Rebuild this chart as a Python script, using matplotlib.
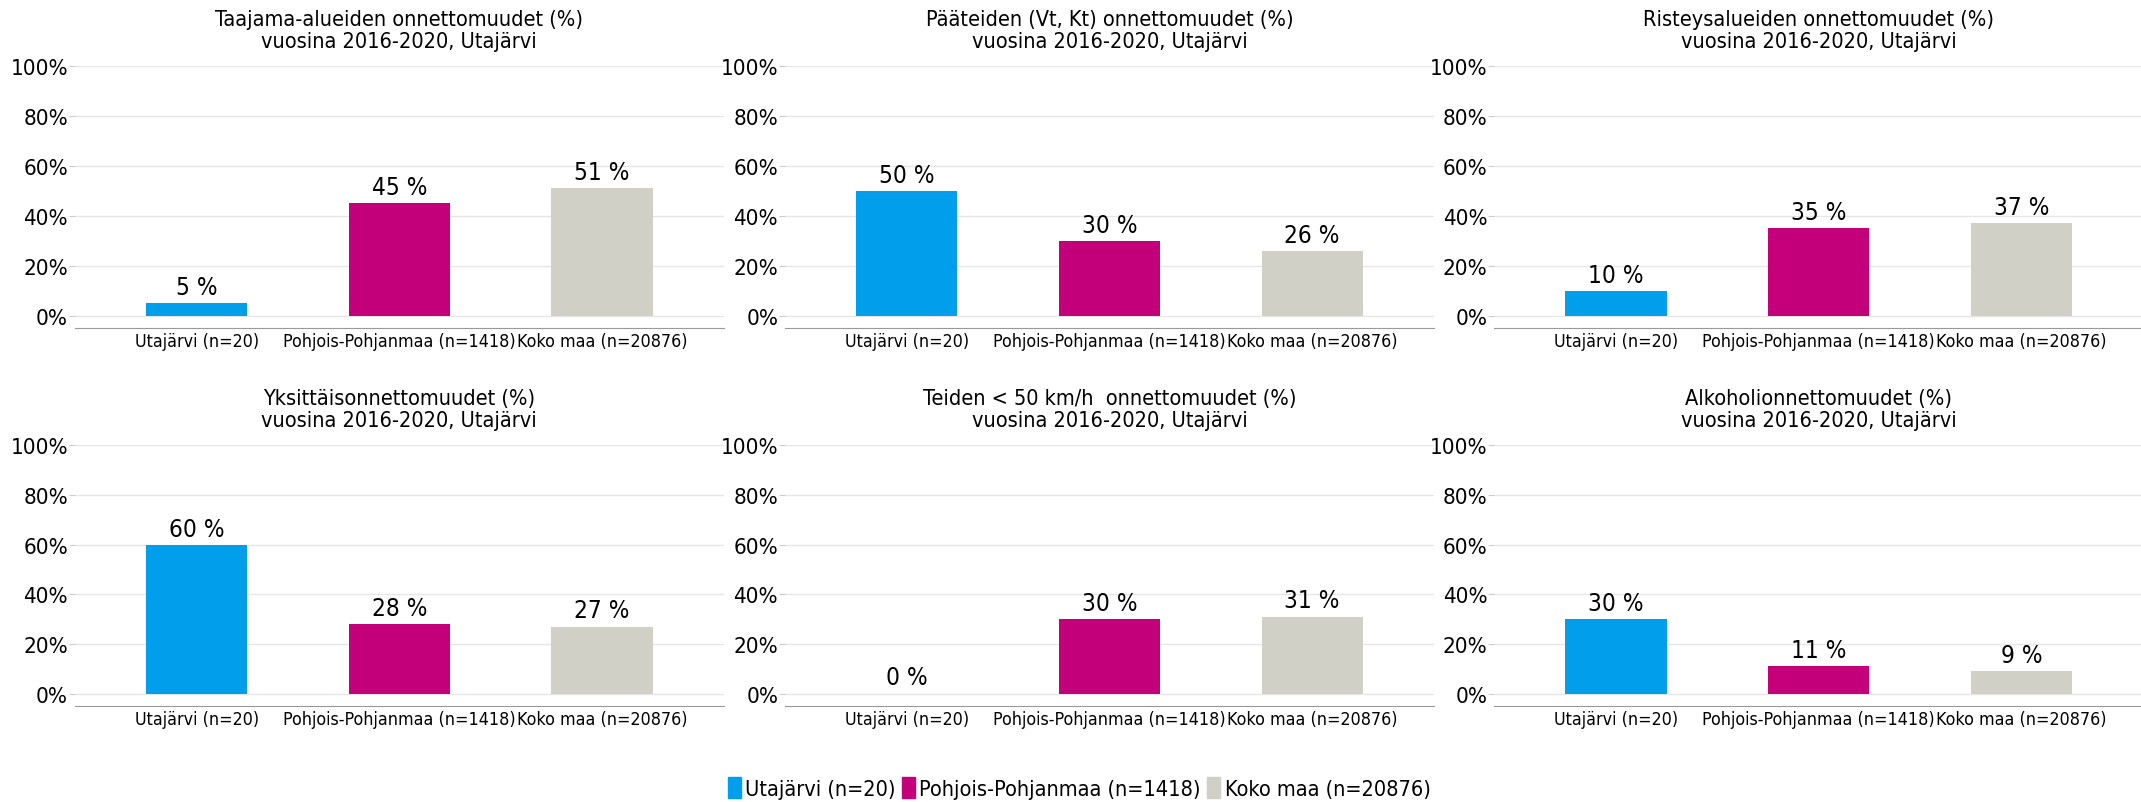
import matplotlib.pyplot as plt
import matplotlib.ticker as mtick
from matplotlib.patches import Patch

plt.rcParams['font.family'] = ['DejaVu Sans']
plt.rcParams['font.stretch'] = 'condensed'

groups = ["Utajärvi (n=20)", "Pohjois-Pohjanmaa (n=1418)", "Koko maa (n=20876)"]
colors = ["#009EEB", "#C3007A", "#D0D0C6"]

titles = [
    "Taajama-alueiden onnettomuudet (%)\nvuosina 2016-2020, Utajärvi",
    "Pääteiden (Vt, Kt) onnettomuudet (%)\nvuosina 2016-2020, Utajärvi",
    "Risteysalueiden onnettomuudet (%)\nvuosina 2016-2020, Utajärvi",
    "Yksittäisonnettomuudet (%)\nvuosina 2016-2020, Utajärvi",
    "Teiden < 50 km/h  onnettomuudet (%)\nvuosina 2016-2020, Utajärvi",
    "Alkoholionnettomuudet (%)\nvuosina 2016-2020, Utajärvi",
]
taajama = [5, 45, 51]
paatiet = [50, 30, 26]
risteys = [10, 35, 37]
yksittais = [60, 28, 27]
alle50 = [0, 30, 31]
alkoholi = [30, 11, 9]
values = [taajama, paatiet, risteys, yksittais, alle50, alkoholi]

fig = plt.figure(figsize=(21.41, 8.03), dpi=100)

lefts = [0.035, 0.3667, 0.698]
width = 0.303
rows = [(0.590, 0.3266), (0.1196, 0.3244)]

for i in range(6):
    r, c = divmod(i, 3)
    ax = fig.add_axes([lefts[c], rows[r][0], width, rows[r][1]])
    x = range(3)
    ax.bar(x, values[i], width=0.5, color=colors, zorder=2)
    for xi, v in zip(x, values[i]):
        ax.annotate(f"{v} %", (xi, v), xytext=(0, 3), textcoords="offset points",
                    ha="center", va="bottom", fontsize=17.5)
    ax.set_xlim(-0.6, 2.6)
    ax.set_ylim(-5, 100)
    ax.set_yticks([0, 20, 40, 60, 80, 100])
    ax.yaxis.set_major_formatter(mtick.PercentFormatter(decimals=0))
    ax.set_xticks(list(x))
    ax.set_xticklabels(groups, fontsize=12.8)
    ax.tick_params(axis="y", labelsize=16, length=4, color="#cccccc", pad=1)
    ax.tick_params(axis="x", length=0, pad=3)
    ax.grid(axis="y", color="#e6e6e6", linewidth=1, zorder=0)
    for s in ["top", "right", "left"]:
        ax.spines[s].set_visible(False)
    ax.spines["bottom"].set_color("#999999")
    ax.set_title(titles[i], fontsize=15.6, pad=14, linespacing=1.1)

handles = [Patch(color=col) for col in colors]
fig.legend(handles, groups, loc="lower center", bbox_to_anchor=(0.504, -0.02), ncol=3,
           frameon=False, fontsize=15.6, handlelength=0.6, handleheight=1.1,
           handletextpad=0.2, columnspacing=0.3)

fig.savefig("out.png", dpi=100)
